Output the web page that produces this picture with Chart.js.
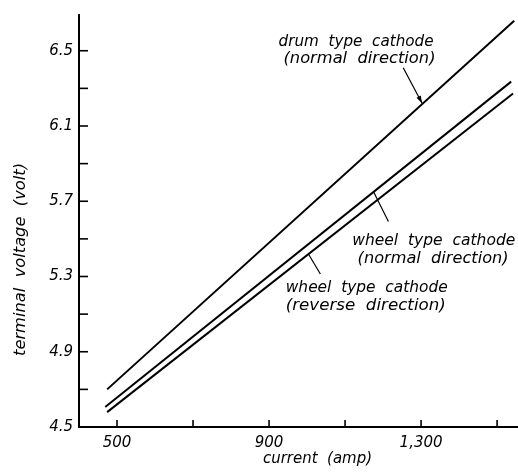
<!DOCTYPE html>
<html>
<head>
<meta charset="utf-8">
<script src="https://cdn.jsdelivr.net/npm/chart.js@4.4.1/dist/chart.umd.min.js"></script>
<style>
  html, body { margin: 0; padding: 0; background: #fff; }
  canvas { display: block; }
</style>
</head>
<body>
<canvas id="chart" width="518" height="473"></canvas>
<script>
// current (amp) / terminal voltage (volt)
const drumCurrent = [474, 1545];
const drumVoltage = [4.70, 6.66];
const wheelNormalCurrent = [469, 1537];
const wheelNormalVoltage = [4.606, 6.336];
const wheelReverseCurrent = [474, 1542];
const wheelReverseVoltage = [4.579, 6.273];

const xTickValues = [500, 700, 900, 1100, 1300, 1500];
const xTickLabels = { 500: '500', 900: '900', 1300: '1,300' };
const yTickValues = [4.5, 4.7, 4.9, 5.1, 5.3, 5.5, 5.7, 5.9, 6.1, 6.3, 6.5];
const yTickLabels = { '4.5': '4.5', '4.9': '4.9', '5.3': '5.3', '5.7': '5.7', '6.1': '6.1', '6.5': '6.5' };

// annotation text, anchored in data units (amp, volt)
const notes = [
  { text: 'drum  type  cathode', at: [925, 6.526], width: 155 },
  { text: '(normal  direction)', at: [938, 6.437], width: 152 },
  { text: 'wheel  type  cathode', at: [1119, 5.466], width: 163 },
  { text: '(normal  direction)', at: [1133, 5.371], width: 151 },
  { text: 'wheel  type  cathode', at: [944, 5.218], width: 162 },
  { text: '(reverse  direction)', at: [944, 5.123], width: 160 }
];
const pointers = [
  { from: [1253, 6.41], to: [1303, 6.22], arrow: true },
  { from: [1214, 5.592], to: [1175, 5.75], arrow: false },
  { from: [1035, 5.313], to: [1004, 5.418], arrow: false }
];

const FONT = '"DejaVu Sans", sans-serif';

function toPoints(xs, ys) {
  return xs.map((x, i) => ({ x, y: ys[i] }));
}

function fitText(ctx, text, x, y, width) {
  const w = ctx.measureText(text).width;
  ctx.save();
  ctx.translate(x, y);
  ctx.scale(width / w, 1);
  ctx.fillText(text, 0, 0);
  ctx.restore();
}

const decorations = {
  id: 'decorations',
  afterDraw(chart) {
    const { ctx } = chart;
    const xs = chart.scales.x;
    const ys = chart.scales.y;
    const left = chart.chartArea.left;
    const bottom = chart.chartArea.bottom;
    ctx.save();
    ctx.strokeStyle = '#000';
    ctx.fillStyle = '#000';
    ctx.lineWidth = 1.6;

    // inward tick marks
    yTickValues.forEach((v) => {
      const py = ys.getPixelForValue(v);
      ctx.beginPath();
      ctx.moveTo(left, py);
      ctx.lineTo(left + 9, py);
      ctx.stroke();
    });
    xTickValues.forEach((v) => {
      const px = xs.getPixelForValue(v);
      ctx.beginPath();
      ctx.moveTo(px, bottom);
      ctx.lineTo(px, bottom - 7);
      ctx.stroke();
    });

    // pointers
    ctx.lineWidth = 1.2;
    pointers.forEach((p) => {
      const x1 = xs.getPixelForValue(p.from[0]);
      const y1 = ys.getPixelForValue(p.from[1]);
      const x2 = xs.getPixelForValue(p.to[0]);
      const y2 = ys.getPixelForValue(p.to[1]);
      ctx.beginPath();
      ctx.moveTo(x1, y1);
      ctx.lineTo(x2, y2);
      ctx.stroke();
      if (p.arrow) {
        const a = Math.atan2(y2 - y1, x2 - x1);
        ctx.beginPath();
        ctx.moveTo(x2, y2);
        ctx.lineTo(x2 - 8 * Math.cos(a - 0.3), y2 - 8 * Math.sin(a - 0.3));
        ctx.lineTo(x2 - 8 * Math.cos(a + 0.3), y2 - 8 * Math.sin(a + 0.3));
        ctx.closePath();
        ctx.fill();
      }
    });

    // annotation text
    ctx.font = 'italic 15px ' + FONT;
    ctx.textBaseline = 'alphabetic';
    ctx.textAlign = 'left';
    notes.forEach((n) => {
      fitText(ctx, n.text, xs.getPixelForValue(n.at[0]), ys.getPixelForValue(n.at[1]), n.width);
    });

    // axis titles
    fitText(ctx, 'current  (amp)', 263, 463, 109);
    ctx.save();
    ctx.translate(25, 356);
    ctx.rotate(-Math.PI / 2);
    fitText(ctx, 'terminal  voltage  (volt)', 0, 0, 193);
    ctx.restore();

    ctx.restore();
  }
};

new Chart(document.getElementById('chart'), {
  type: 'line',
  data: {
    datasets: [
      { label: 'drum type cathode (normal direction)', data: toPoints(drumCurrent, drumVoltage) },
      { label: 'wheel type cathode (normal direction)', data: toPoints(wheelNormalCurrent, wheelNormalVoltage) },
      { label: 'wheel type cathode (reverse direction)', data: toPoints(wheelReverseCurrent, wheelReverseVoltage) }
    ]
  },
  options: {
    responsive: false,
    animation: false,
    layout: { padding: { top: 12, right: 0, left: 0, bottom: 0 } },
    elements: {
      line: { borderColor: '#000', borderWidth: 2, tension: 0, fill: false },
      point: { radius: 0 }
    },
    plugins: {
      legend: { display: false },
      tooltip: { enabled: false }
    },
    scales: {
      x: {
        type: 'linear',
        min: 400,
        max: 1555,
        afterFit: (s) => { s.height = 46; },
        afterBuildTicks: (s) => { s.ticks = xTickValues.map((value) => ({ value })); },
        grid: { display: true, drawOnChartArea: false, drawTicks: false },
        border: { display: true, color: '#000', width: 2 },
        ticks: {
          padding: 7,
          color: '#000',
          maxRotation: 0,
          autoSkip: false,
          font: { family: FONT, size: 15, style: 'italic' },
          callback: (v) => xTickLabels[v] || ''
        }
      },
      y: {
        type: 'linear',
        min: 4.5,
        max: 6.69,
        afterFit: (s) => { s.width = 79; },
        afterBuildTicks: (s) => { s.ticks = yTickValues.map((value) => ({ value })); },
        grid: { display: true, drawOnChartArea: false, drawTicks: false },
        border: { display: true, color: '#000', width: 2 },
        ticks: {
          padding: 6,
          color: '#000',
          autoSkip: false,
          font: { family: FONT, size: 15, style: 'italic' },
          callback: (v) => yTickLabels[v.toFixed(1)] || ''
        }
      }
    }
  },
  plugins: [decorations]
});
</script>
</body>
</html>
